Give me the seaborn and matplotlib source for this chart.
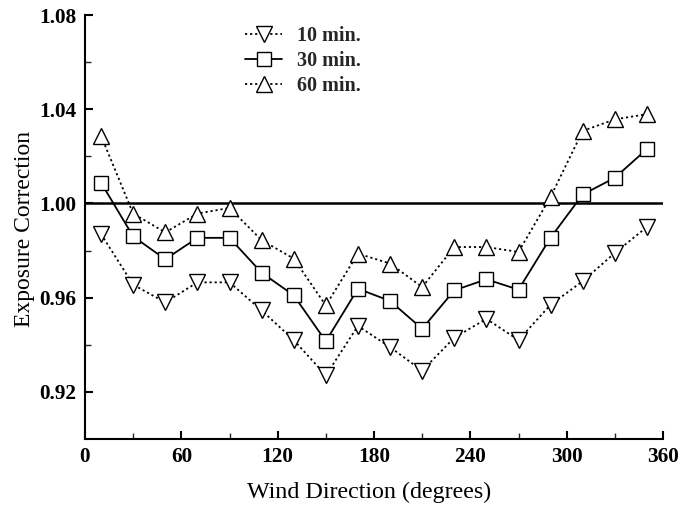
import matplotlib
matplotlib.use("Agg")
import matplotlib.pyplot as plt
import seaborn as sns
import pandas as pd

directions = [10, 30, 50, 70, 90, 110, 130, 150, 170, 190, 210, 230, 250, 270, 290, 310, 330, 350]
min10 = [0.987, 0.9655, 0.958, 0.9665, 0.9665, 0.9546, 0.942, 0.927, 0.948, 0.939, 0.929,
         0.943, 0.951, 0.942, 0.957, 0.967, 0.979, 0.990]
min30 = [1.0088, 0.986, 0.9763, 0.9854, 0.9854, 0.9706, 0.961, 0.9415, 0.9638, 0.9586, 0.9468,
         0.9631, 0.9678, 0.9634, 0.9855, 1.0038, 1.0109, 1.0231]
min60 = [1.0287, 0.9957, 0.9877, 0.9957, 0.9981, 0.9844, 0.9766, 0.9567, 0.9787, 0.9745, 0.9645,
         0.9815, 0.9815, 0.9794, 1.0028, 1.0308, 1.0357, 1.0379]
labels = ["10 min.", "30 min.", "60 min."]
x_ticks = [0, 60, 120, 180, 240, 300, 360]
y_ticks = [0.92, 0.96, 1.00, 1.04, 1.08]
y_ticklabels = ["0.92", "0.96", "1.00", "1.04", "1.08"]

sns.set_theme(style="ticks")
plt.rcParams["font.family"] = ["Liberation Serif", "DejaVu Serif"]

fig = plt.figure(figsize=(6.78, 5.08), dpi=100)
ax = fig.add_axes([85 / 678, 69 / 508, 578 / 678, 424 / 508])

df = pd.DataFrame({"dir": directions, "m10": min10, "m30": min30, "m60": min60})

dot = (0, (1.2, 1.6))
styles = [("m10", "v", dot, labels[0]), ("m30", "s", "-", labels[1]), ("m60", "^", dot, labels[2])]
ax.axhline(1.0, color="black", lw=1.8, zorder=1)
for col, mk, ls, lab in styles:
    sns.lineplot(data=df, x="dir", y=col, ax=ax, color="black", linestyle=ls, lw=1.3,
                 marker=mk, markersize=11 if mk != "s" else 10, markerfacecolor="white",
                 markeredgecolor="black", markeredgewidth=1.0, label=lab, zorder=3, clip_on=False)

ax.set_xlim(0, 360)
ax.set_ylim(0.90, 1.08)
ax.set_xticks(x_ticks)
ax.set_xticks(range(30, 360, 60), minor=True)
ax.set_yticks(y_ticks)
ax.set_yticklabels(y_ticklabels)
ax.set_yticks([0.94, 0.98, 1.02, 1.06], minor=True)
ax.tick_params(axis="both", which="major", direction="in", length=6, width=1.5,
               labelsize=15.3, pad=6, colors="black")
ax.tick_params(axis="both", which="minor", direction="in", length=4, width=1.0)
for t in ax.get_xticklabels() + ax.get_yticklabels():
    t.set_fontweight("bold")
sns.despine(ax=ax)
for s in ["left", "bottom"]:
    ax.spines[s].set_linewidth(1.5)
    ax.spines[s].set_color("black")

ax.set_xlabel("Wind Direction (degrees)", fontsize=17.3, color="black")
ax.xaxis.set_label_coords(0.491, -0.102)
ax.set_ylabel("Exposure Correction", fontsize=17, labelpad=2, color="black")
ax.yaxis.set_label_coords(-0.086, 0.495)

leg = ax.legend(loc="upper left", bbox_to_anchor=(0.277, 0.975), frameon=False,
                prop={"weight": "bold", "size": 14.5}, handlelength=1.85,
                handletextpad=0.75, labelspacing=0.25, borderpad=0, borderaxespad=0)

fig.savefig("out.png", dpi=100)
